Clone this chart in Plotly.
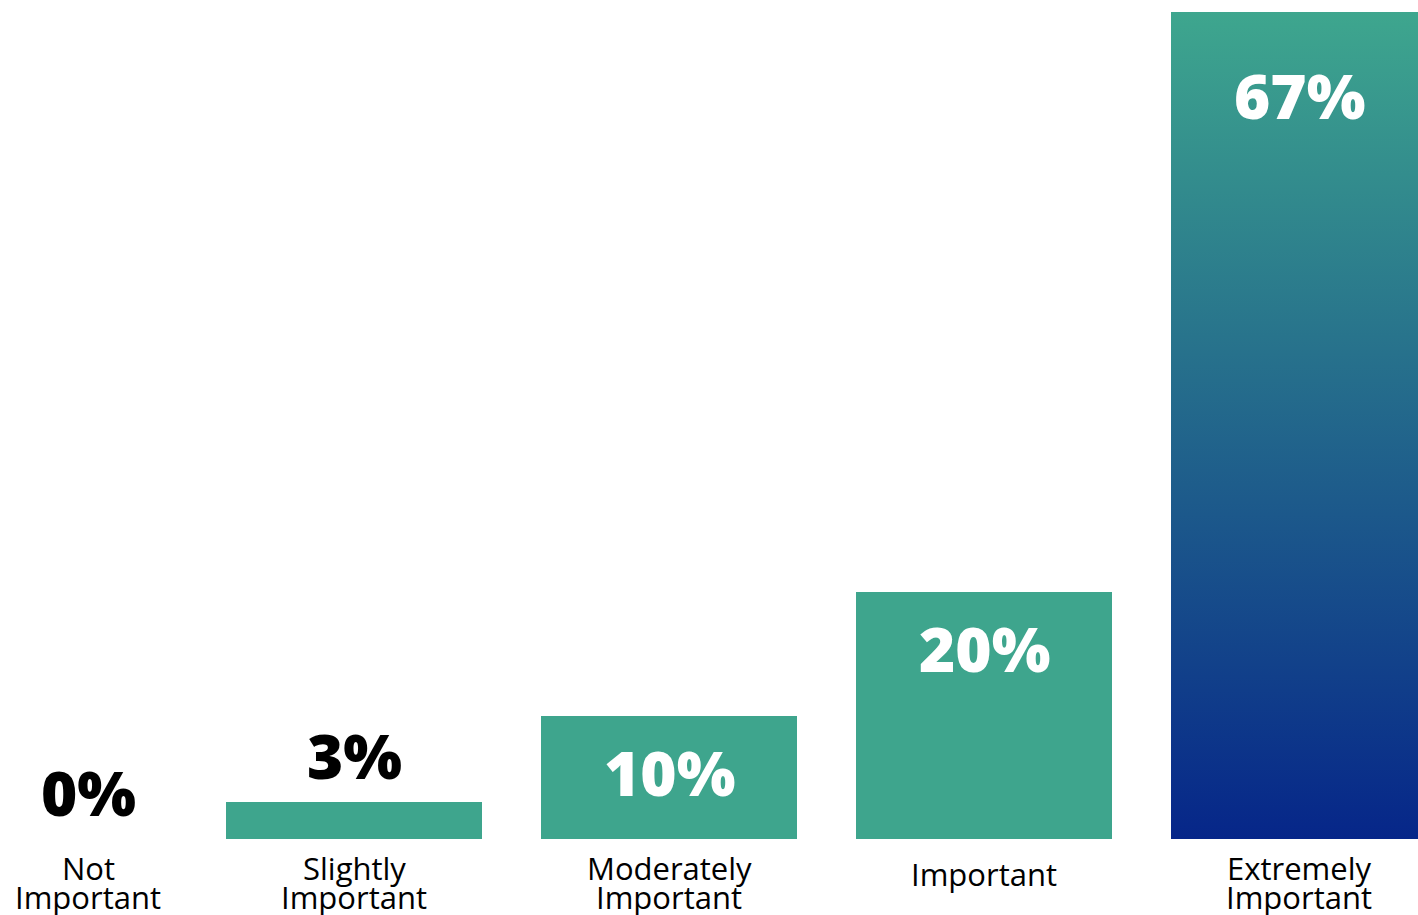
import plotly.graph_objects as go

# ---- data ----
categories = ["Not<br>Important", "Slightly<br>Important", "Moderately<br>Important",
              "Important", "Extremely<br>Important"]
values = [0, 3, 10, 20, 67]
value_labels = [f"{v}%" for v in values]

# ---- style ----
TEAL = "#3ea58d"
GRAD_TOP = "#3ea68e"
GRAD_BOTTOM = "#062689"
FONT = "Open Sans, sans-serif"
W, H = 1418, 915
PX_PER_X = 315.0          # pixels per category step
BAR_W = 256 / PX_PER_X    # bar width in category units
PX_PER_Y = 12.34          # pixels per percentage point
BASE_PX = 839             # pixel row of the zero line

x_pos = list(range(len(categories)))
x0 = 1 - 354 / PX_PER_X
x_range = [x0, x0 + W / PX_PER_X]
y_range = [-(H - BASE_PX) / PX_PER_Y, BASE_PX / PX_PER_Y]

hi = values.index(max(values))

fig = go.Figure()

# regular bars
fig.add_trace(go.Bar(
    x=x_pos, y=values, width=BAR_W,
    marker=dict(color=TEAL, line=dict(width=0)),
    hoverinfo="skip", showlegend=False,
))

# highlighted (largest) bar drawn with a vertical gradient
xl, xr = x_pos[hi] - BAR_W / 2, x_pos[hi] + BAR_W / 2
fig.add_trace(go.Scatter(
    x=[xl, xr, xr, xl, xl], y=[0, 0, values[hi], values[hi], 0],
    mode="lines", line=dict(width=0), fill="toself",
    fillgradient=dict(type="vertical",
                      colorscale=[[0, GRAD_BOTTOM], [1, GRAD_TOP]]),
    hoverinfo="skip", showlegend=False,
))

annotations = []
for i, (cat, v, lab) in enumerate(zip(categories, values, value_labels)):
    xshift = 49 if i == 0 else 0
    bar_px = v * PX_PER_Y
    if bar_px > 90:
        color = "white"
        ysh = -(83 if i == hi else 56)
    else:
        color = "black"
        ysh = 47
    annotations.append(dict(
        x=i, y=v, xref="x", yref="y", text=lab, showarrow=False,
        xanchor="center", yanchor="middle", xshift=xshift, yshift=ysh,
        font=dict(family=FONT, size=62, color=color, weight=800),
    ))
    # category label (tight line spacing -> one annotation per line)
    lines = cat.split("<br>")
    offsets = [-35] if len(lines) == 1 else [-28.5, -57.5]
    for ln, off in zip(lines, offsets):
        annotations.append(dict(
            x=i, y=0, xref="x", yref="y", text=ln, showarrow=False,
            xanchor="center", yanchor="middle", xshift=xshift, yshift=off,
            font=dict(family=FONT, size=31, color="black"),
        ))

fig.update_layout(
    width=W, height=H,
    margin=dict(l=0, r=0, t=0, b=0, pad=0),
    paper_bgcolor="white", plot_bgcolor="white",
    xaxis=dict(range=x_range, visible=False, fixedrange=True),
    yaxis=dict(range=y_range, visible=False, fixedrange=True),
    annotations=annotations,
    bargap=0,
)

fig.write_html(
    "out.html",
    config={"displayModeBar": False},
    post_script="document.body.style.margin='0';document.body.style.overflow='hidden';",
)
